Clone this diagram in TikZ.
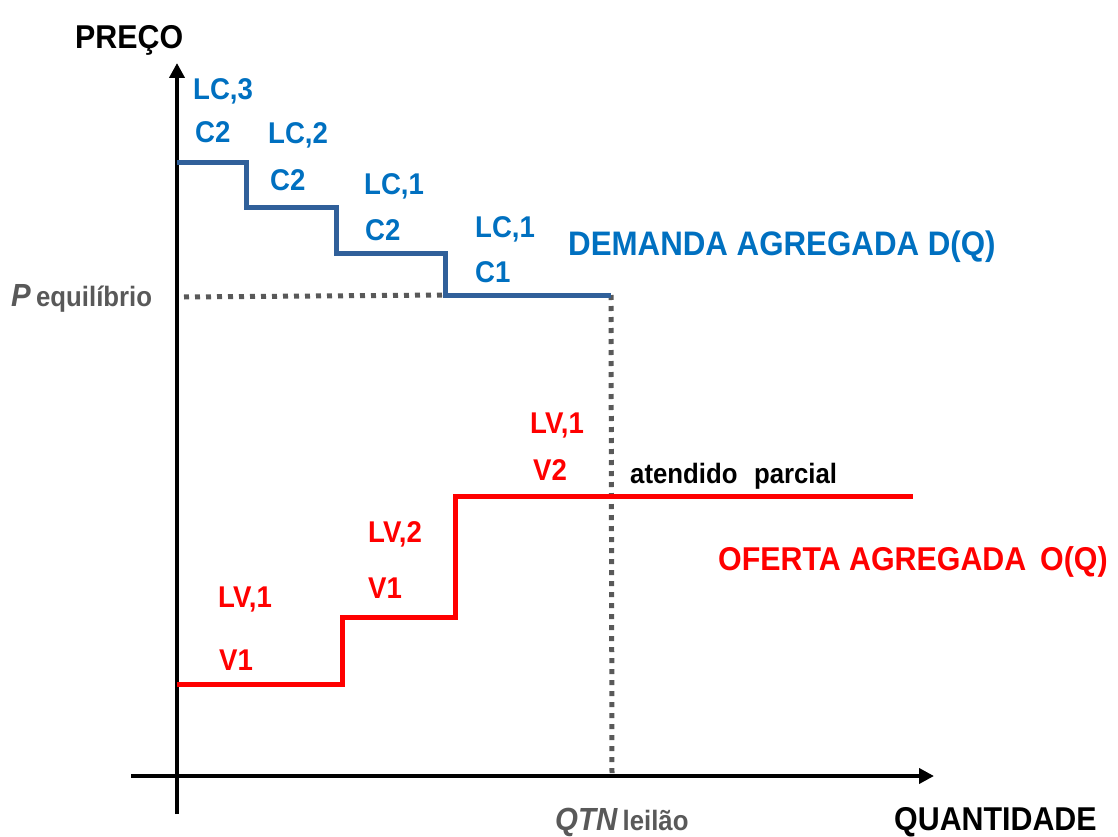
\documentclass[tikz,border=0pt]{standalone}
\usepackage{fontspec}
\setmainfont{Liberation Sans}[FakeStretch=0.92]
\usetikzlibrary{arrows.meta}
\definecolor{bluetxt}{HTML}{0070C0}
\definecolor{blueline}{HTML}{30609A}
\definecolor{redc}{HTML}{FF0000}
\definecolor{grayc}{HTML}{595959}
\begin{document}
\begin{tikzpicture}[x=1pt,y=-1pt,
  lbl/.style={anchor=base west,inner sep=0pt,font=\bfseries\fontsize{30}{34}\selectfont},
  blbl/.style={lbl,text=bluetxt},
  rlbl/.style={lbl,text=redc},
  big/.style={anchor=base west,inner sep=0pt,font=\bfseries\fontsize{34}{38}\selectfont},
  axis/.style={line width=4pt,-{Triangle[width=15pt,length=15pt]}},
  dem/.style={line width=5pt,blueline,line join=miter},
  sup/.style={line width=5pt,redc,line join=miter},
  dots/.style={line width=5pt,grayc,dash pattern=on 5pt off 6pt}]
\useasboundingbox (0,0) rectangle (1118,837);
% axes
\coordinate (yb) at (177,814);
\coordinate (yt) at (177,63);
\coordinate (xl) at (131,776);
\coordinate (xr) at (934,776);
\draw[axis] (yb) -- (yt);
\draw[axis] (xl) -- (xr);
% demand
\coordinate (d0) at (177,163);
\coordinate (d1) at (246,163);
\coordinate (d2) at (246,207);
\coordinate (d3) at (336,207);
\coordinate (d4) at (336,253);
\coordinate (d5) at (445,253);
\coordinate (d6) at (445,295);
\coordinate (d7) at (611,295);
% supply
\coordinate (s0) at (177,684);
\coordinate (s1) at (342,684);
\coordinate (s2) at (342,617);
\coordinate (s3) at (455,617);
\coordinate (s4) at (455,496);
\coordinate (s5) at (913,496);
% dotted guides
\coordinate (pe) at (184,297);
\coordinate (qb) at (612,776);
\draw[dots] (pe) -- (d6);
\draw[dots] (d7) -- (qb);
\draw[dem] (d0) -- (d1) -- (d2) -- (d3) -- (d4) -- (d5) -- (d6) -- (d7);
\draw[sup] (s0) -- (s1) -- (s2) -- (s3) -- (s4) -- (s5);
% axis titles
\node[big,font=\bfseries\fontsize{33}{38}\selectfont] (preco) at (75,49) {PREÇO};
\node[big,font=\bfseries\fontsize{33}{38}\selectfont] (quant) at (894,830) {QUANTIDADE};
\node[anchor=base west,inner sep=0pt,text=grayc] (peq) at (11,306) {\bfseries\itshape\fontsize{32}{34}\selectfont P\,\upshape\fontsize{28}{30}\selectfont equilíbrio};
\node[anchor=base west,inner sep=0pt,text=grayc] (qtn) at (555,830) {\bfseries\itshape\fontsize{32}{34}\selectfont QTN\,\upshape\fontsize{28}{30}\selectfont leilão};
% demand labels
\node[blbl] (lc3) at (193,100) {LC,3};
\node[blbl] (c2a) at (195,143) {C2};
\node[blbl] (lc2) at (268,144) {LC,2};
\node[blbl] (c2b) at (270,190) {C2};
\node[blbl] (lc1a) at (364,194) {LC,1};
\node[blbl] (c2c) at (365,240) {C2};
\node[blbl] (lc1b) at (475,237) {LC,1};
\node[blbl] (c1) at (475,282) {C1};
\node[big,text=bluetxt] (dq) at (568,255) {DEMANDA AGREGADA D(Q)};
% supply labels
\node[rlbl] (lv1a) at (530,433) {LV,1};
\node[rlbl] (v2) at (533,480) {V2};
\node[rlbl] (lv2) at (368,542) {LV,2};
\node[rlbl] (v1a) at (368,598) {V1};
\node[rlbl] (lv1b) at (218,607) {LV,1};
\node[rlbl] (v1b) at (219,670) {V1};
\node[anchor=base west,inner sep=0pt,font=\bfseries\fontsize{28}{30}\selectfont] (atp) at (630,483) {atendido\,\, parcial};
\node[big,font=\bfseries\fontsize{33}{38}\selectfont,text=redc] (oq) at (718,570) {OFERTA AGREGADA\, O(Q)};
\end{tikzpicture}
\end{document}
